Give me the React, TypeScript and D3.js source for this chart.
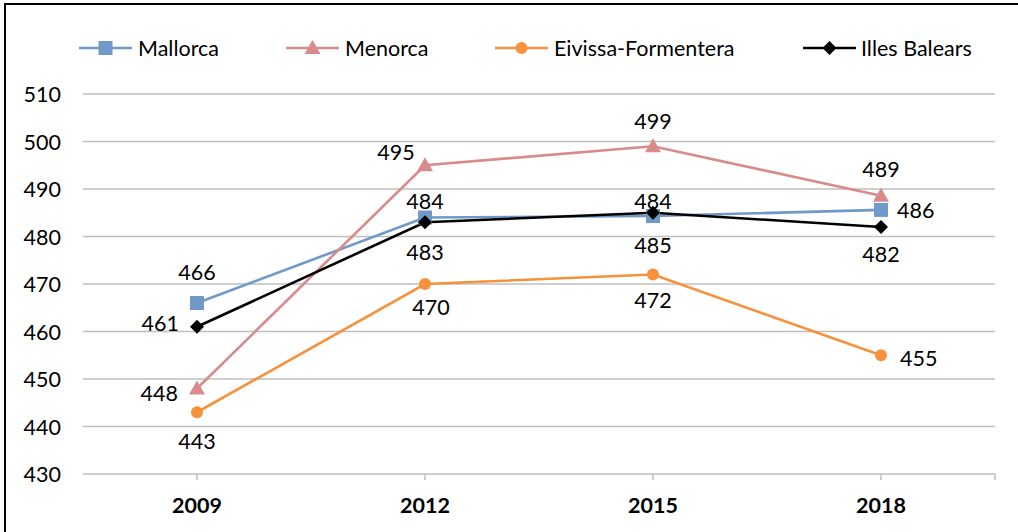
import React from "react";
import * as d3 from "d3";

const years = ["2009", "2012", "2015", "2018"];
const mallorca = [466, 484, 484.3, 485.6];
const menorca = [448, 495, 499, 488.6];
const eivissa = [443, 470, 472, 455];
const illes = [461, 483, 485, 482];
const yTicks = [430, 440, 450, 460, 470, 480, 490, 500, 510];
const mallorcaLabels = ["466", "484", "484", "486"];
const menorcaLabels = ["448", "495", "499", "489"];
const eivissaLabels = ["443", "470", "472", "455"];
const illesLabels = ["461", "483", "485", "482"];

// label placement (style): [dx, dy, anchor]
type Off = [number, number, string];
const mallorcaOff: Off[] = [[0, -31, "middle"], [0, -17, "middle"], [0, -15, "middle"], [16, 0, "start"]];
const menorcaOff: Off[] = [[-19, 4, "end"], [-29, -13, "middle"], [0, -25, "middle"], [0, -27, "middle"]];
const eivissaOff: Off[] = [[0, 29, "middle"], [6, 23, "middle"], [0, 25, "middle"], [19, 3, "start"]];
const illesOff: Off[] = [[-18, -4, "end"], [0, 30, "middle"], [0, 32, "middle"], [0, 27, "middle"]];

const W = 1018, H = 532;
const FONT = "Lato, 'Open Sans', sans-serif";
const FS = 21.5;

export default function App() {
  const x = d3.scaleBand().domain(years).range([83, 995]);
  const y = d3.scaleLinear().domain([430, 510]).range([474, 94]);
  const cx = (i: number) => (x(years[i]) as number) + x.bandwidth() / 2;

  const series = [
    { name: "Mallorca", values: mallorca, labels: mallorcaLabels, off: mallorcaOff, color: "#7098C8", marker: "square" },
    { name: "Menorca", values: menorca, labels: menorcaLabels, off: menorcaOff, color: "#D98A8A", marker: "triangle" },
    { name: "Eivissa-Formentera", values: eivissa, labels: eivissaLabels, off: eivissaOff, color: "#F6913C", marker: "circle" },
    { name: "Illes Balears", values: illes, labels: illesLabels, off: illesOff, color: "#000000", marker: "diamond" },
  ];

  const line = d3.line<number>().x((_, i) => cx(i)).y((v) => y(v));

  const drawMarker = (m: string, px: number, py: number, color: string, key: string) => {
    if (m === "square") return <rect key={key} x={px - 7} y={py - 7} width={14} height={14} fill={color} />;
    if (m === "triangle") return <path key={key} d={`M${px},${py - 8}L${px + 8},${py + 6}L${px - 8},${py + 6}Z`} fill={color} />;
    if (m === "circle") return <circle key={key} cx={px} cy={py} r={6} fill={color} />;
    return <path key={key} d={`M${px},${py - 7}L${px + 7},${py}L${px},${py + 7}L${px - 7},${py}Z`} fill={color} />;
  };

  const legendX = [
    { line: [79, 132], text: 138 },
    { line: [286, 339], text: 345 },
    { line: [495, 548], text: 554 },
    { line: [803, 856], text: 861 },
  ];
  const legendY = 48;

  return (
    <svg width={W} height={H} style={{ position: "absolute", left: 0, top: 0, background: "#fff" }} fontFamily={FONT}>
      <rect x={0} y={0} width={W} height={H} fill="#fff" />
      {/* border */}
      <path d={`M5,${H}V4H${W}`} fill="none" stroke="#000" strokeWidth={2} />
      {/* gridlines */}
      {yTicks.map((t) => (
        <line key={t} x1={83} x2={995} y1={y(t)} y2={y(t)} stroke="#BFBFBF" strokeWidth={1.5} />
      ))}
      {/* x ticks */}
      {years.map((yr, i) => (
        <line key={yr} x1={cx(i)} x2={cx(i)} y1={474} y2={480} stroke="#BFBFBF" strokeWidth={1.5} />
      ))}
      <line x1={995} x2={995} y1={474} y2={480} stroke="#BFBFBF" strokeWidth={1.5} />
      {/* y tick labels */}
      {yTicks.map((t) => (
        <text key={t} x={61} y={y(t)} textAnchor="end" dominantBaseline="central" fontSize={FS} fill="#000">{t}</text>
      ))}
      {/* x labels */}
      {years.map((yr, i) => (
        <text key={yr} x={cx(i)} y={505} textAnchor="middle" dominantBaseline="central" fontSize={FS} fontWeight="bold" fill="#000">{yr}</text>
      ))}
      {/* lines */}
      {series.map((s) => (
        <path key={s.name} d={line(s.values) as string} fill="none" stroke={s.color} strokeWidth={2.6} />
      ))}
      {series.map((s) => s.values.map((v, i) => drawMarker(s.marker, cx(i), y(v), s.color, s.name + i)))}
      {/* data labels */}
      {series.map((s) =>
        s.values.map((v, i) => (
          <text key={s.name + "l" + i} x={cx(i) + s.off[i][0]} y={y(v) + s.off[i][1]} textAnchor={s.off[i][2] as any}
            dominantBaseline="central" fontSize={FS} fill="#000">{s.labels[i]}</text>
        ))
      )}
      {/* legend */}
      {series.map((s, k) => {
        const L = legendX[k];
        const mx = (L.line[0] + L.line[1]) / 2;
        return (
          <g key={s.name}>
            <line x1={L.line[0]} x2={L.line[1]} y1={legendY} y2={legendY} stroke={s.color} strokeWidth={2.6} />
            {drawMarker(s.marker, mx, legendY, s.color, "lg" + k)}
            <text x={L.text} y={legendY} dominantBaseline="central" fontSize={FS} fill="#000">{s.name}</text>
          </g>
        );
      })}
    </svg>
  );
}
